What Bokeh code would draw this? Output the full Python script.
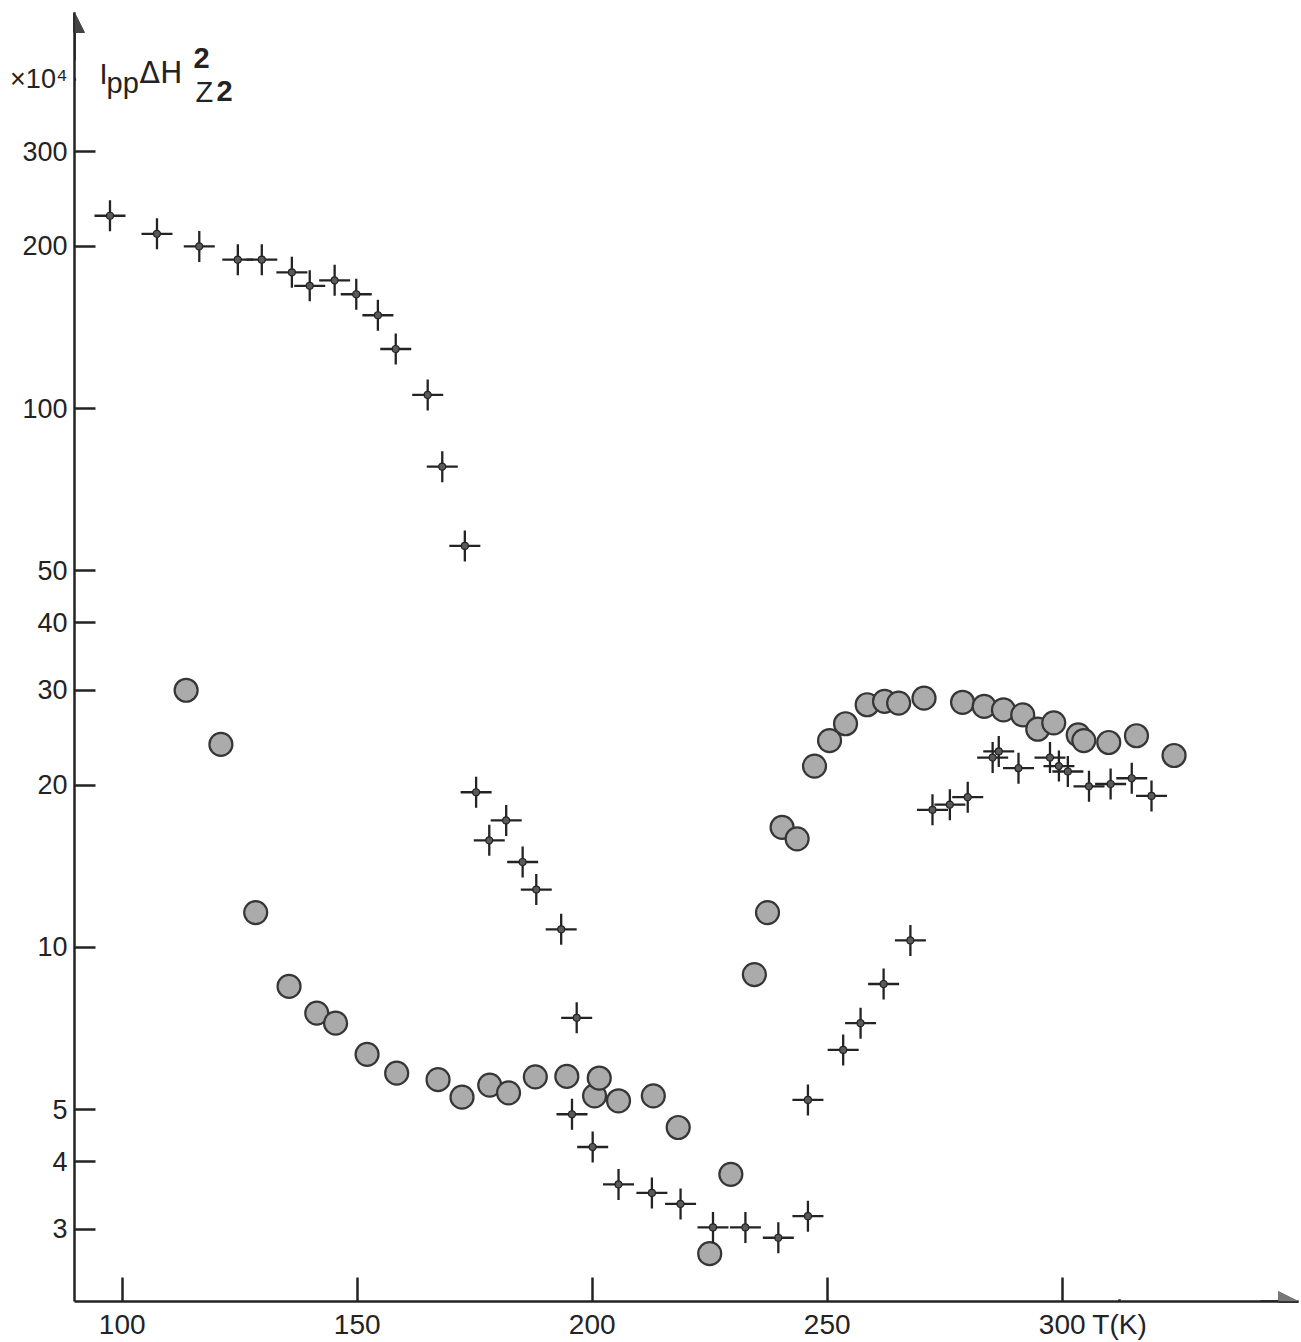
from bokeh.plotting import figure
from bokeh.models import (FixedTicker, CustomJSTickFormatter, Label, Arrow,
                          NormalHead, Range1d, BoxAnnotation)
from bokeh.embed import file_html
from bokeh.resources import INLINE

# ---- data (T in K, value in units of 1e4) ----
cross_T = [97.4, 107.4, 116.4, 124.6, 129.7, 136.1, 139.9, 145.2, 149.8, 154.4,
           158.2, 165.0, 168.1, 172.9, 175.3, 178.1, 181.7, 185.2, 188.1, 193.4,
           196.7, 195.7, 200.1, 205.6, 212.7, 218.8, 225.7, 232.6, 239.6, 245.9,
           245.9, 253.4, 257.1, 262.0, 267.7, 272.4, 276.1, 279.9, 285.2, 286.5,
           290.7, 297.4, 299.3, 301.2, 305.7, 310.3, 314.8, 319.0]
cross_v = [228, 211, 200, 189, 189, 179, 169, 173, 163, 149,
           129, 106, 78, 55.6, 19.4, 15.8, 17.2, 14.4, 12.8, 10.8,
           7.4, 4.9, 4.26, 3.63, 3.50, 3.34, 3.02, 3.02, 2.89, 3.17,
           5.21, 6.45, 7.23, 8.55, 10.3, 18.0, 18.4, 19.0, 22.5, 23.1,
           21.5, 22.5, 21.7, 21.2, 19.9, 20.1, 20.6, 19.1]

circle_T = [113.6, 121.0, 128.4, 135.5, 141.4, 145.4, 152.1, 158.4, 167.2, 172.3,
            178.2, 182.2, 187.9, 194.6, 200.5, 201.5, 205.6, 213.0, 218.3, 225.0,
            229.5, 234.5, 237.3, 240.4, 243.6, 247.3, 250.5, 253.9, 258.5, 262.2,
            265.2, 270.6, 278.8, 283.4, 287.5, 291.6, 294.8, 298.2, 303.4, 304.6,
            309.9, 315.8, 323.8]
circle_v = [30.0, 23.8, 11.6, 8.46, 7.55, 7.23, 6.33, 5.84, 5.68, 5.27,
            5.55, 5.37, 5.75, 5.76, 5.30, 5.72, 5.19, 5.30, 4.63, 2.70,
            3.79, 8.9, 11.6, 16.7, 15.9, 21.7, 24.2, 26.0, 28.2, 28.6,
            28.4, 29.0, 28.5, 28.0, 27.6, 27.0, 25.4, 26.1, 24.8, 24.2,
            24.0, 24.7, 22.7]

x_ticks = [100, 150, 200, 250, 300]
y_ticks = [3, 4, 5, 10, 20, 30, 40, 50, 100, 200, 300]
x_unit_text = "T(K)"
y_unit_text = "×10⁴"

# ---- layout ----
W, H = 1301, 1342
FL, FR, FT, FB = 74, 1298, 12, 1304
PX_PER_K = 4.70
X0 = 89.85
X1 = X0 + (FR - FL) / PX_PER_K
Y_REF_PX, DEC_PX = 409.0, 540.0          # 100 sits at 409 px, 540 px per decade
Y0 = 10 ** (2 - (FB - Y_REF_PX) / DEC_PX)
Y1 = 10 ** (2 + (Y_REF_PX - FT) / DEC_PX)


def dx(px):
    return X0 + (px - FL) / PX_PER_K


def dy(py):
    return 10 ** (2 - (py - Y_REF_PX) / DEC_PX)


INK = "#232323"
FONT = "Liberation Sans"

# positions (along the axes) of the two unit captions, carried as extra ticks
X_UNIT_PX, Y_UNIT_PX = 1119, 79
x_unit_at = dx(X_UNIT_PX)
y_unit_at = dy(Y_UNIT_PX)

p = figure(width=W, height=H, x_range=Range1d(X0, X1), y_range=Range1d(Y0, Y1),
           y_axis_type="log", output_backend="svg", toolbar_location=None,
           min_border_left=FL, min_border_right=W - FR,
           min_border_top=FT, min_border_bottom=H - FB)
p.grid.visible = False
p.outline_line_color = None
p.background_fill_color = "white"
p.border_fill_color = "white"

for ax in (p.xaxis[0], p.yaxis[0]):
    ax.axis_line_width = 2.5
    ax.axis_line_color = INK
    ax.major_tick_line_width = 2.5
    ax.major_tick_line_color = INK
    ax.major_tick_out = 0
    ax.minor_tick_in = 0
    ax.minor_tick_out = 0
    ax.major_label_text_font = FONT
    ax.major_label_text_color = INK

p.xaxis.ticker = FixedTicker(ticks=x_ticks + [x_unit_at], minor_ticks=[])
p.xaxis.formatter = CustomJSTickFormatter(
    args=dict(u=x_unit_at, t=x_unit_text),
    code="if (Math.abs(tick - u) < 1e-6) return t; return String(Math.round(tick));")
p.xaxis.major_tick_in = 24
p.xaxis.major_label_text_font_size = "28px"
p.xaxis.major_label_standoff = 7

p.yaxis.ticker = FixedTicker(ticks=y_ticks + [y_unit_at], minor_ticks=[])
p.yaxis.formatter = CustomJSTickFormatter(
    args=dict(u=y_unit_at, t=y_unit_text),
    code="if (Math.abs(tick - u) < 1e-9 * u) return t; return String(Math.round(tick));")
p.yaxis.major_tick_in = 21
p.yaxis.major_label_text_font_size = "27px"
p.yaxis.major_label_standoff = 7

# ---- marks ----
p.scatter(circle_T, circle_v, marker="circle", size=23,
          fill_color="#ababab", line_color="#363636", line_width=2.2)
p.scatter(cross_T, cross_v, marker="cross", size=31,
          line_color=INK, line_width=2.3)
p.scatter(cross_T, cross_v, marker="circle", size=7,
          fill_color="#5a5a5a", line_color=INK, line_width=1.2)

# hide the tick stubs that carry the unit captions
p.add_layout(BoxAnnotation(left=dx(X_UNIT_PX - 5), right=dx(X_UNIT_PX + 5),
                           bottom=dy(FB - 2.2), top=dy(FB - 28),
                           fill_color="white", fill_alpha=1.0, line_color=None))
p.add_layout(BoxAnnotation(left=dx(FL + 1.6), right=dx(FL + 26),
                           bottom=dy(Y_UNIT_PX + 5), top=dy(Y_UNIT_PX - 5),
                           fill_color="white", fill_alpha=1.0, line_color=None))

# ---- axis arrows ----
p.add_layout(Arrow(end=NormalHead(size=20, fill_color="#444", line_color="#444"),
                   x_start=X0, x_end=X0, y_start=dy(60), y_end=Y1,
                   line_width=2.5, line_color=INK))
p.add_layout(Arrow(end=NormalHead(size=20, fill_color="#777", line_color="#777"),
                   x_start=dx(1260), x_end=X1, y_start=Y0, y_end=Y0,
                   line_width=2.5, line_color=INK))

SHIFT = 9  # baseline correction


def lab(text, px, py, size, font=FONT, style="normal"):
    p.add_layout(Label(x=dx(px), y=dy(py - SHIFT), text=text, text_font=font,
                       text_font_size=size, text_color=INK,
                       text_baseline="alphabetic", text_align="left",
                       text_font_style=style))


# quantity label
lab("I", 99, 83, "29px")
lab("pp", 106, 92, "29px")
lab("ΔH", 139, 81, "30px", font="DejaVu Sans")
lab("2", 193, 67, "29px", style="bold")
lab("Z", 195, 101, "29px")
lab("2", 216, 100, "29px", style="bold")

open("out.html", "w").write(file_html(p, INLINE))
